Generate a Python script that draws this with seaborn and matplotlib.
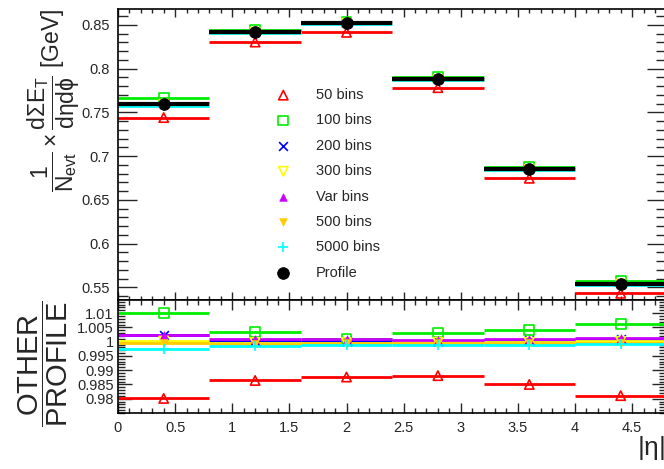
import numpy as np
import pandas as pd
import matplotlib
matplotlib.use('Agg')
import matplotlib.pyplot as plt
from matplotlib.ticker import MultipleLocator
import seaborn as sns

# bins in |eta|
bin_lo = [0.0, 0.8, 1.6, 2.4, 3.2, 4.0]
bin_hi = [0.8, 1.6, 2.4, 3.2, 4.0, 4.8]
bin_mid = [0.4, 1.2, 2.0, 2.8, 3.6, 4.4]

# 1/Nevt dSumEt/detadphi [GeV]
profile = [0.7591, 0.8417, 0.8519, 0.7875, 0.6849, 0.5537]
h50 = [0.74400, 0.83025, 0.84134, 0.77812, 0.67463, 0.54323]
h100 = [0.76669, 0.84448, 0.85284, 0.79002, 0.68764, 0.55719]
h200 = [0.76077, 0.84204, 0.85224, 0.78782, 0.68524, 0.55420]
h300 = [0.75925, 0.84145, 0.85164, 0.78734, 0.68476, 0.55376]
hvar = [0.76100, 0.84237, 0.85258, 0.78806, 0.68545, 0.55436]
h500 = [0.75872, 0.84111, 0.85156, 0.78719, 0.68449, 0.55348]
h5000 = [0.75728, 0.84052, 0.85105, 0.78656, 0.68415, 0.55315]

labels = ['50 bins', '100 bins', '200 bins', '300 bins', 'Var bins',
          '500 bins', '5000 bins']
values = [h50, h100, h200, h300, hvar, h500, h5000]
colors = ['#ff0000', '#00ee00', '#0000ff', '#ffff00', '#cc00ff',
          '#ffcc00', '#00ffff']
markers = ['^', 's', 'x', 'v', '^', 'v', '+']
filled = [False, False, True, False, True, True, True]
msize = [45, 50, 40, 45, 30, 30, 45]

sns.set_style('ticks')
plt.rcParams['font.family'] = ['Liberation Sans', 'DejaVu Sans']
plt.rcParams['mathtext.fontset'] = 'custom'
plt.rcParams['mathtext.rm'] = 'Liberation Sans'
plt.rcParams['mathtext.it'] = 'Liberation Sans'
plt.rcParams['mathtext.bf'] = 'Liberation Sans:bold'

fig = plt.figure(figsize=(6.64, 4.69), dpi=100)
W, H = 664.0, 469.0
x0 = 118 / W
x1 = 666.4 / W
ax = fig.add_axes([x0, 1 - 300 / H, x1 - x0, (300 - 9) / H])
rax = fig.add_axes([x0, 1 - 413 / H, x1 - x0, (413 - 300) / H])

prof_arr = np.array(profile)
for lab, val, col, mk, fl, s in zip(labels, values, colors, markers, filled, msize):
    val = np.array(val)
    ratio = val / prof_arr
    for a, y in ((ax, val), (rax, ratio)):
        a.hlines(y, bin_lo, bin_hi, colors=col, lw=2, zorder=2)
        kw = dict(x=bin_mid, y=y, ax=a, marker=mk, s=s, color=col, zorder=3)
        if fl:
            if mk in ('x', '+'):
                kw['linewidth'] = 1.2
            else:
                kw['edgecolor'] = col
        else:
            kw['facecolor'] = 'none'
            kw['edgecolor'] = col
            kw['linewidth'] = 1.2
        if a is ax:
            kw['label'] = lab
        sns.scatterplot(**kw)

ax.hlines(profile, bin_lo, bin_hi, colors='black', lw=3, zorder=4)
sns.scatterplot(x=bin_mid, y=profile, ax=ax, marker='o', s=70, color='black',
                edgecolor='black', zorder=5, label='Profile')

# main panel
ax.set_xlim(0, 4.8)
ax.set_ylim(0.5356, 0.868)
ax.xaxis.set_major_locator(MultipleLocator(0.5))
ax.xaxis.set_minor_locator(MultipleLocator(0.1))
ax.yaxis.set_major_locator(MultipleLocator(0.05))
ax.yaxis.set_minor_locator(MultipleLocator(0.01))
ax.tick_params(axis='x', which='both', direction='in', top=True, bottom=True,
               labelbottom=False)
ax.tick_params(axis='x', which='major', length=6, width=1)
ax.tick_params(axis='x', which='minor', length=3, width=1)
ax.tick_params(axis='y', which='both', direction='in', left=True, right=True,
               labelsize=10.5, pad=6)
ax.tick_params(axis='y', which='major', length=14, width=1)
ax.tick_params(axis='y', which='minor', length=7, width=1)
ax.set_yticklabels(['%g' % t for t in ax.get_yticks()])
ax.set_xlabel('')
ax.set_ylabel(r'$\dfrac{1}{N_{evt}}\times\dfrac{d\Sigma E_{T}}{d\eta d\phi}$ [GeV]',
              fontsize=16.5, loc='top')
ax.yaxis.set_label_coords(-0.066, 1.0)

ax.legend(loc='upper left', bbox_to_anchor=(276 / W, 1 - 88 / H),
          bbox_transform=fig.transFigure, frameon=False, fontsize=10.5,
          handlelength=1.0, handletextpad=1.75, labelspacing=0.78,
          borderpad=0, borderaxespad=0)

# ratio panel
rax.set_xlim(0, 4.8)
rax.set_ylim(0.975, 1.0146)
rax.xaxis.set_major_locator(MultipleLocator(0.5))
rax.xaxis.set_minor_locator(MultipleLocator(0.1))
rax.yaxis.set_major_locator(MultipleLocator(0.005))
rax.yaxis.set_minor_locator(MultipleLocator(0.001))
rax.tick_params(axis='x', which='both', direction='in', top=True, bottom=True,
                labelsize=10.5, pad=6)
rax.tick_params(axis='x', which='major', length=7, width=1)
rax.tick_params(axis='x', which='minor', length=3.5, width=1)
rax.tick_params(axis='y', which='both', direction='in', left=True, right=True,
                labelsize=10.5, pad=3)
rax.tick_params(axis='y', which='major', length=10, width=1)
rax.tick_params(axis='y', which='minor', length=5, width=1)
rax.set_xticks(np.arange(0, 4.75, 0.5))
rax.set_xticklabels(['%g' % t for t in np.arange(0, 4.75, 0.5)])
rax.set_yticks([0.98, 0.985, 0.99, 0.995, 1.0, 1.005, 1.01])
rax.set_yticklabels(['0.98', '0.985', '0.99', '0.995', '1', '1.005', '1.01'])
rax.set_ylabel(r'$\dfrac{\mathrm{OTHER}}{\mathrm{PROFILE}}$', fontsize=21, loc='top')
rax.yaxis.set_label_coords(-0.088, 1.0)
rax.set_xlabel(r'$|\eta|$', fontsize=19, loc='right')
rax.xaxis.set_label_coords(0.997, -0.19)

for a in (ax, rax):
    for sp in a.spines.values():
        sp.set_linewidth(1.2)
        sp.set_color('black')

fig.savefig('out.png', dpi=100)
